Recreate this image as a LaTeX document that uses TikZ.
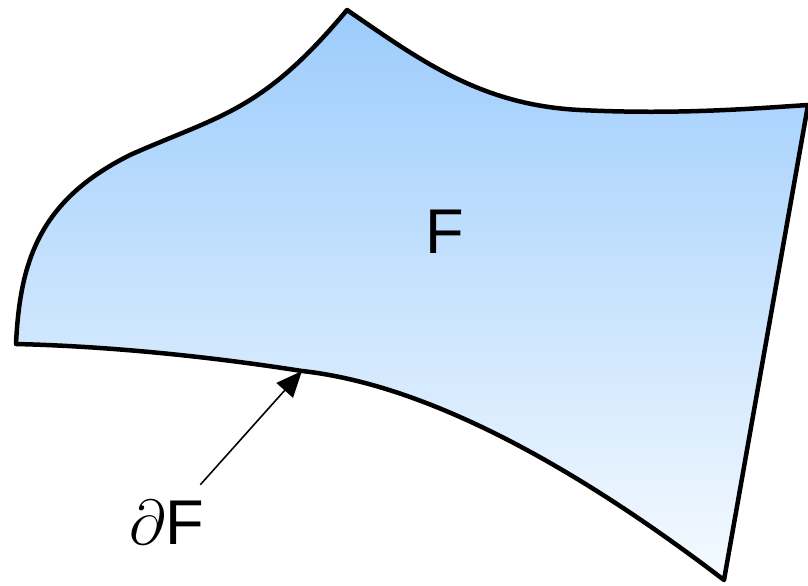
\documentclass[tikz,border=0pt]{standalone}
\usepackage{graphicx}
\usepackage{fontspec}
\setmainfont{Liberation Sans}
\usepackage{tikz}
\usetikzlibrary{positioning, arrows.meta, calc}
\definecolor{skytop}{RGB}{156, 204, 252}
\definecolor{skybot}{RGB}{245, 250, 255}
\definecolor{ink}{RGB}{0, 0, 0}

\begin{document}
\begin{tikzpicture}[x=0.02cm, y=-0.02cm,
      surf/.style={draw=ink, line width=0.09cm, line join=round, top color=skytop, bottom color=skybot},
      lbl/.style={font=\fontsize{36}{40}\selectfont, inner sep=0pt, text=ink},
      arr/.style={-{Triangle[length=0.52cm, width=0.44cm]}, line width=0.9pt, color=ink}]
    \useasboundingbox (0,0) rectangle (808,585);
    \path[surf] (16,344) .. controls (20,260) and (40,200) .. (130,155)
      .. controls (220,115) and (262,112) .. (347,10)
      .. controls (420,60) and (480,105) .. (580,110)
      .. controls (680,115) and (760,108) .. (808,105)
      -- (724,580)
      .. controls (580,470) and (430,385) .. (302,371) coordinate (bd)
      .. controls (200,355) and (100,346) .. (16,344) -- cycle;
    \node[lbl] (f) at (445,232) {F};
    \node[lbl] (df) at (167,522) {\scalebox{1.45}{$\partial$}F};
    \draw[arr, shorten <=0.4cm] (df) -- (bd);
  \end{tikzpicture}
\end{document}
